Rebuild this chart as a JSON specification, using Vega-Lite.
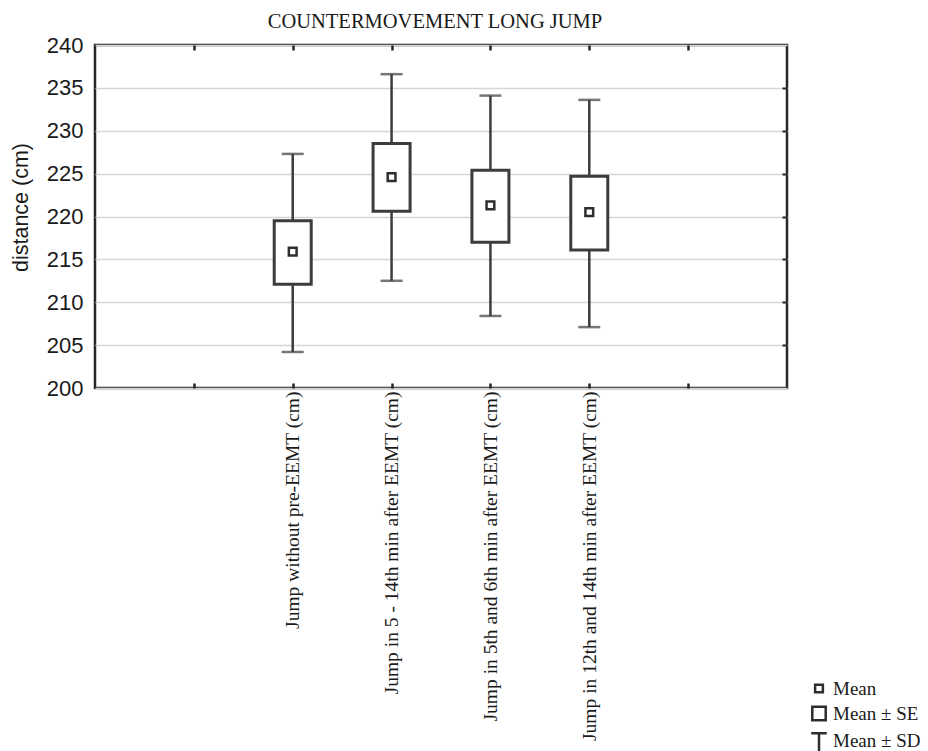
{
  "$schema": "https://vega.github.io/schema/vega-lite/v6.json",
  "autosize": {"type": "none"},
  "padding": {"left": 95, "top": 45, "right": 141, "bottom": 363},
  "width": 692,
  "height": 343,
  "title": {
    "text": "COUNTERMOVEMENT LONG JUMP",
    "font": "Liberation Serif",
    "fontSize": 20.5,
    "fontWeight": "normal",
    "color": "#1a1a1a",
    "anchor": "middle",
    "dx": -6,
    "offset": 2
  },
  "data": {
    "values": [
      {"cond": "Jump without pre-EEMT (cm)", "mean": 215.9, "se_lo": 212.1, "se_hi": 219.5, "sd_lo": 204.2, "sd_hi": 227.3, "stat": "Mean"},
      {"cond": "Jump in 5 - 14th min after EEMT (cm)", "mean": 224.6, "se_lo": 220.6, "se_hi": 228.5, "sd_lo": 212.5, "sd_hi": 236.6, "stat": "Mean"},
      {"cond": "Jump in 5th and 6th min after EEMT (cm)", "mean": 221.3, "se_lo": 217.0, "se_hi": 225.4, "sd_lo": 208.4, "sd_hi": 234.1, "stat": "Mean"},
      {"cond": "Jump in 12th and 14th min after EEMT (cm)", "mean": 220.5, "se_lo": 216.1, "se_hi": 224.7, "sd_lo": 207.1, "sd_hi": 233.6, "stat": "Mean"}
    ]
  },
  "resolve": {"axis": {"x": "independent", "y": "independent"}},
  "layer": [
    {
      "mark": {"type": "rule", "color": "#3c3c3c", "strokeWidth": 2.5},
      "encoding": {
        "x": {
          "field": "cond", "type": "nominal",
          "scale": {"type": "point", "padding": 1, "domain": [" ", "Jump without pre-EEMT (cm)", "Jump in 5 - 14th min after EEMT (cm)", "Jump in 5th and 6th min after EEMT (cm)", "Jump in 12th and 14th min after EEMT (cm)", "  "]},
          "axis": {
            "orient": "bottom", "title": null, "labelAngle": 270, "labelLimit": 0,
            "labelFont": "Liberation Serif", "labelFontSize": 19.5, "labelColor": "#1a1a1a",
            "tickSize": -5, "tickColor": "#262626", "tickWidth": 2.5, "labelPadding": 8,
            "domain": false, "grid": false
          }
        },
        "y": {
          "field": "sd_lo", "type": "quantitative",
          "scale": {"domain": [200, 240], "nice": false, "zero": false},
          "axis": {
            "orient": "left", "title": "distance (cm)", "values": [200, 205, 210, 215, 220, 225, 230, 235, 240],
            "labelFont": "Liberation Sans", "labelFontSize": 22, "labelColor": "#1a1a1a", "labelPadding": 12,
            "titleFont": "Liberation Sans", "titleFontSize": 21.5, "titleFontWeight": "normal", "titleColor": "#1a1a1a", "titlePadding": 14, "titleY": 162,
            "ticks": false, "domain": false, "grid": true, "gridColor": "#d6d6d6", "gridWidth": 1.3
          }
        },
        "y2": {"field": "sd_hi"}
      }
    },
    {
      "mark": {"type": "bar", "width": 37, "fill": "white", "stroke": "#3c3c3c", "strokeWidth": 3},
      "encoding": {
        "x": {"field": "cond", "type": "nominal", "axis": {"orient": "top", "title": null, "labels": false, "domain": false, "grid": false, "tickSize": -5, "tickColor": "#262626", "tickWidth": 2.5}},
        "y": {"field": "se_lo", "type": "quantitative", "axis": {"orient": "right", "title": null, "labels": false, "domain": false, "grid": false, "tickSize": -5, "tickColor": "#262626", "tickWidth": 2, "values": [205, 210, 215, 220, 225, 230, 235]}},
        "y2": {"field": "se_hi"}
      }
    },
    {
      "mark": {"type": "tick", "color": "#3c3c3c", "size": 22, "thickness": 2.5},
      "encoding": {
        "x": {"field": "cond", "type": "nominal", "axis": null},
        "y": {"field": "sd_hi", "type": "quantitative", "axis": null}
      }
    },
    {
      "mark": {"type": "tick", "color": "#3c3c3c", "size": 22, "thickness": 2.5},
      "encoding": {
        "x": {"field": "cond", "type": "nominal", "axis": null},
        "y": {"field": "sd_lo", "type": "quantitative", "axis": null}
      }
    },
    {
      "mark": {"type": "point", "filled": true, "fill": "white", "stroke": "#2e2e2e", "strokeWidth": 2.5, "opacity": 1},
      "encoding": {
        "x": {"field": "cond", "type": "nominal", "axis": null},
        "y": {"field": "mean", "type": "quantitative", "axis": null},
        "shape": {
          "field": "stat", "type": "ordinal", "title": null,
          "scale": {"domain": ["Mean", "Mean ± SE", "Mean ± SD"], "range": ["square", "square", "M-0.9,-0.9H0.9M0,-0.9V1.5"]},
          "legend": {
            "orient": "none", "legendX": 714, "legendY": 634,
            "labelFont": "Liberation Serif", "labelFontSize": 19, "labelColor": "#1a1a1a",
            "symbolFillColor": "white", "symbolStrokeColor": "#2e2e2e", "symbolStrokeWidth": 2.5, "symbolOpacity": 1,
            "rowPadding": 2, "labelOffset": 4
          }
        },
        "size": {
          "field": "stat", "type": "ordinal", "title": null,
          "scale": {"domain": ["Mean", "Mean ± SE", "Mean ± SD"], "range": [60, 300, 400]}
        }
      }
    }
  ],
  "config": {
    "view": {"stroke": "#262626", "strokeWidth": 2.5}
  }
}
